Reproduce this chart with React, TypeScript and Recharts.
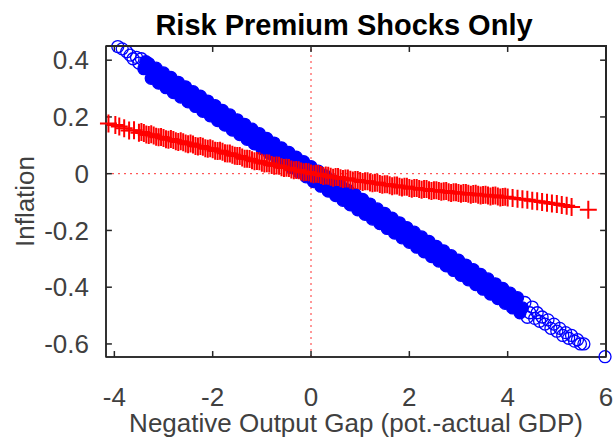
import { ScatterChart, Scatter, XAxis, YAxis, ReferenceLine, ReferenceArea, Label } from "recharts";

const xTicks = [-4, -2, 0, 2, 4, 6];
const yTicks = [-0.6, -0.4, -0.2, 0, 0.2, 0.4];
const xDomain: [number, number] = [-4.17, 6];
const yDomain: [number, number] = [-0.646, 0.45];

// blue circles (the middle of the band is a solid mass of markers)
const bluePoints: [number, number][] = [
  [-3.93, 0.448], [-3.84, 0.44], [-3.75, 0.43], [-3.68, 0.418], [-3.62, 0.405], [-3.55, 0.41], [-3.5, 0.39],
  [-3.45, 0.405], [-3.4, 0.37], [-3.36, 0.395],
  [-3.3, 0.388], [-3.25, 0.336], [-3.2, 0.352], [-3.15, 0.372], [-3.1, 0.319], [-3.05, 0.336], [-3.0, 0.355],
  [-2.95, 0.303], [-2.9, 0.319], [-2.85, 0.339], [-2.8, 0.286], [-2.75, 0.303], [-2.7, 0.322], [-2.65, 0.27],
  [-2.6, 0.286], [-2.55, 0.306], [-2.5, 0.253], [-2.45, 0.27], [-2.4, 0.289], [-2.35, 0.237], [-2.3, 0.253],
  [-2.25, 0.273], [-2.2, 0.22], [-2.15, 0.237], [-2.1, 0.256], [-2.05, 0.204], [-2.0, 0.22], [-1.95, 0.24],
  [-1.9, 0.187], [-1.85, 0.204], [-1.8, 0.223], [-1.75, 0.171], [-1.7, 0.187], [-1.65, 0.207], [-1.6, 0.154],
  [-1.55, 0.171], [-1.5, 0.19], [-1.45, 0.138], [-1.4, 0.154], [-1.35, 0.174], [-1.3, 0.121], [-1.25, 0.138],
  [-1.2, 0.157], [-1.15, 0.105], [-1.1, 0.121], [-1.05, 0.141], [-1.0, 0.088], [-0.95, 0.105], [-0.9, 0.124],
  [-0.85, 0.072], [-0.8, 0.088], [-0.75, 0.108], [-0.7, 0.055], [-0.65, 0.072], [-0.6, 0.091], [-0.55, 0.039],
  [-0.5, 0.055], [-0.45, 0.075], [-0.4, 0.022], [-0.35, 0.039], [-0.3, 0.058], [-0.25, 0.006], [-0.2, 0.022],
  [-0.15, 0.042], [-0.1, -0.011], [-0.05, 0.006], [0.0, 0.025], [0.05, -0.028], [0.1, -0.011], [0.15, 0.009],
  [0.2, -0.044], [0.25, -0.028], [0.3, -0.008], [0.35, -0.061], [0.4, -0.044], [0.45, -0.025], [0.5, -0.077],
  [0.55, -0.061], [0.6, -0.041], [0.65, -0.094], [0.7, -0.077], [0.75, -0.058], [0.8, -0.11], [0.85, -0.094],
  [0.9, -0.074], [0.95, -0.127], [1.0, -0.11], [1.05, -0.091], [1.1, -0.143], [1.15, -0.127], [1.2, -0.107],
  [1.25, -0.16], [1.3, -0.143], [1.35, -0.124], [1.4, -0.176], [1.45, -0.16], [1.5, -0.14], [1.55, -0.193],
  [1.6, -0.176], [1.65, -0.157], [1.7, -0.209], [1.75, -0.193], [1.8, -0.173], [1.85, -0.226], [1.9, -0.209],
  [1.95, -0.19], [2.0, -0.242], [2.05, -0.226], [2.1, -0.206], [2.15, -0.259], [2.2, -0.242], [2.25, -0.223],
  [2.3, -0.275], [2.35, -0.259], [2.4, -0.239], [2.45, -0.292], [2.5, -0.275], [2.55, -0.256], [2.6, -0.308],
  [2.65, -0.292], [2.7, -0.272], [2.75, -0.325], [2.8, -0.308], [2.85, -0.289], [2.9, -0.341], [2.95, -0.325],
  [3.0, -0.305], [3.05, -0.358], [3.1, -0.341], [3.15, -0.322], [3.2, -0.374], [3.25, -0.358], [3.3, -0.338],
  [3.35, -0.391], [3.4, -0.374], [3.45, -0.355], [3.5, -0.407], [3.55, -0.391], [3.6, -0.371], [3.65, -0.424],
  [3.7, -0.407], [3.75, -0.388], [3.8, -0.44], [3.85, -0.424], [3.9, -0.404], [3.95, -0.457], [4.0, -0.44],
  [4.05, -0.421], [4.1, -0.473], [4.15, -0.457], [4.2, -0.437], [4.25, -0.49], [4.3, -0.473], [4.35, -0.454],
  [4.4, -0.506], [4.45, -0.49], [4.5, -0.47],
  [4.55, -0.51], [4.6, -0.49], [4.65, -0.52], [4.7, -0.505], [4.76, -0.53], [4.82, -0.515], [4.88, -0.545],
  [4.94, -0.53], [5.0, -0.555], [5.06, -0.545], [5.12, -0.57], [5.18, -0.56], [5.24, -0.58], [5.3, -0.57],
  [5.36, -0.59], [5.42, -0.585], [5.48, -0.6], [5.55, -0.6], [5.98, -0.645],
];

// red crosses
const redPoints: [number, number][] = [
  [-4.12, 0.177], [-3.98, 0.172], [-3.9, 0.166], [-3.8, 0.16], [-3.7, 0.152], [-3.6, 0.153], [-3.5, 0.144],
  [-3.4, 0.143], [-3.3, 0.136], [-3.2, 0.135], [-3.1, 0.128], [-3.0, 0.126], [-2.9, 0.12], [-2.8, 0.119],
  [-2.7, 0.112], [-2.6, 0.111], [-2.5, 0.104], [-2.4, 0.103], [-2.3, 0.096], [-2.2, 0.095], [-2.1, 0.088],
  [-2.0, 0.086], [-1.9, 0.08], [-1.8, 0.077], [-1.7, 0.071], [-1.6, 0.067], [-1.5, 0.062], [-1.4, 0.057],
  [-1.3, 0.053], [-1.2, 0.047], [-1.1, 0.045], [-1.0, 0.039], [-0.9, 0.037], [-0.8, 0.031], [-0.7, 0.029],
  [-0.6, 0.023], [-0.5, 0.021], [-0.4, 0.015], [-0.3, 0.013], [-0.2, 0.008], [-0.1, 0.006], [0.0, 0.001],
  [0.1, 0.0], [0.2, -0.005], [0.3, -0.006], [0.4, -0.011], [0.5, -0.012], [0.6, -0.016], [0.7, -0.017],
  [0.8, -0.021], [0.9, -0.022], [1.0, -0.026], [1.1, -0.027], [1.2, -0.031], [1.3, -0.032], [1.4, -0.036],
  [1.5, -0.037], [1.6, -0.041], [1.7, -0.042], [1.8, -0.046], [1.9, -0.046], [2.0, -0.05], [2.1, -0.05],
  [2.2, -0.054], [2.3, -0.054], [2.4, -0.058], [2.5, -0.058], [2.6, -0.061], [2.7, -0.062], [2.8, -0.065],
  [2.9, -0.065], [3.0, -0.068], [3.1, -0.068], [3.2, -0.071], [3.3, -0.072], [3.4, -0.074], [3.5, -0.075],
  [3.6, -0.077], [3.7, -0.078], [3.8, -0.08], [3.9, -0.082], [4.0, -0.084], [4.1, -0.086], [4.2, -0.088],
  [4.3, -0.09], [4.4, -0.092], [4.5, -0.095], [4.6, -0.097], [4.7, -0.1], [4.8, -0.102], [4.9, -0.105],
  [5.0, -0.107], [5.1, -0.11], [5.2, -0.113], [5.3, -0.117], [5.64, -0.127],
  // the packed middle of the red band
  [-3.45, 0.147], [-3.35, 0.138], [-3.25, 0.139], [-3.15, 0.13], [-3.05, 0.129], [-2.95, 0.121], [-2.85, 0.122],
  [-2.75, 0.114], [-2.65, 0.114], [-2.55, 0.106], [-2.45, 0.106], [-2.35, 0.098], [-2.25, 0.098], [-2.15, 0.09],
  [-2.05, 0.09], [-1.95, 0.081], [-1.85, 0.081], [-1.75, 0.072], [-1.65, 0.071], [-1.55, 0.063], [-1.45, 0.062],
  [-1.35, 0.053], [-1.25, 0.052], [-1.15, 0.044], [-1.05, 0.044], [-0.95, 0.036], [-0.85, 0.036], [-0.75, 0.028],
  [-0.65, 0.028], [-0.55, 0.02], [-0.45, 0.02], [-0.35, 0.012], [-0.25, 0.012], [-0.15, 0.005], [-0.05, 0.005],
  [0.05, -0.002], [0.15, -0.001], [0.25, -0.008], [0.35, -0.007], [0.45, -0.014], [0.55, -0.012], [0.65, -0.019],
  [0.75, -0.017], [0.85, -0.024], [0.95, -0.022], [1.05, -0.029], [1.15, -0.027], [1.25, -0.034], [1.35, -0.032],
  [1.45, -0.039], [1.55, -0.037], [1.65, -0.044], [1.75, -0.042], [1.85, -0.049], [1.95, -0.046], [2.05, -0.053],
  [2.15, -0.05], [2.25, -0.057], [2.35, -0.054], [2.45, -0.061], [2.55, -0.058], [2.65, -0.064], [2.75, -0.061],
  [2.85, -0.068], [2.95, -0.065], [3.05, -0.071], [3.15, -0.068], [3.25, -0.074], [3.35, -0.071], [3.45, -0.077],
  [3.55, -0.074], [3.65, -0.08], [3.75, -0.077], [3.85, -0.084], [3.95, -0.081],
];

const blue = bluePoints.map(([x, y]) => ({ x, y }));
const red = redPoints.map(([x, y]) => ({ x, y }));

const font = "'Liberation Sans', Arial, sans-serif";
const axisColor = "#262626";
const textColor = "#404040";

// markers pile up into a solid band in the middle, rings stay visible at the ends
const BlueRing = (p: any) => {
  const x = p.payload?.x ?? 0;
  const solid = x > -3.45 && x < 4.35;
  return (
    <circle
      cx={p.cx}
      cy={p.cy}
      r={6}
      fill={solid ? "#0000ff" : "none"}
      stroke="#0000ff"
      strokeWidth={1.3}
    />
  );
};

const RedPlus = (p: any) => (
  <path
    d={`M${p.cx - 8.5},${p.cy}H${p.cx + 8.5}M${p.cx},${p.cy - 9}V${p.cy + 9}`}
    stroke="#ff0000"
    strokeWidth={2}
    fill="none"
  />
);

// plot box: left 106, top 46, 500 x 311
const PLOT = { left: 106, top: 46, width: 500, height: 311 };
const tickLenX = 0.12; // about 6px in x units
const tickLenY = 0.021; // about 6px in y units

export default function App() {
  return (
    <div style={{ position: "fixed", left: 0, top: 0, width: 613, height: 439, background: "#fff", overflow: "hidden" }}>
      <div
        style={{
          position: "absolute",
          left: 344,
          top: 8,
          transform: "translateX(-50%)",
          whiteSpace: "nowrap",
          fontFamily: font,
          fontWeight: "bold",
          fontSize: 29,
          lineHeight: "34px",
          color: "#000",
        }}
      >
        Risk Premium Shocks Only
      </div>
      <ScatterChart
        width={613}
        height={439}
        margin={{ top: PLOT.top, right: 613 - PLOT.left - PLOT.width, bottom: 0, left: 0 }}
      >
        <XAxis
          dataKey="x"
          type="number"
          domain={xDomain}
          ticks={xTicks}
          height={439 - PLOT.top - PLOT.height}
          tickLine={false}
          tickMargin={25}
          stroke={axisColor}
          strokeWidth={1.5}
          tick={{ fill: textColor, fontSize: 26, fontFamily: font }}
        >
          <Label
            value="Negative Output Gap (pot.-actual GDP)"
            position="insideBottom"
            offset={7}
            style={{ fill: textColor, fontSize: 26, fontFamily: font }}
          />
        </XAxis>
        <YAxis
          dataKey="y"
          type="number"
          domain={yDomain}
          ticks={yTicks}
          width={PLOT.left}
          tickLine={false}
          tickMargin={11}
          stroke={axisColor}
          strokeWidth={1.5}
          tick={{ fill: textColor, fontSize: 26, fontFamily: font }}
        >
          <Label
            content={(props: any) => {
              const vb = props.viewBox;
              const cx = 25;
              const cy = vb.y + vb.height / 2;
              return (
                <text
                  x={cx}
                  y={cy}
                  transform={`rotate(-90 ${cx} ${cy})`}
                  textAnchor="middle"
                  dominantBaseline="central"
                  fill={textColor}
                  fontSize={26}
                  fontFamily={font}
                >
                  Inflation
                </text>
              );
            }}
          />
        </YAxis>
        <ReferenceLine x={0} stroke="#ff3030" strokeDasharray="2 4" strokeWidth={1} />
        <ReferenceLine y={0} stroke="#ff3030" strokeDasharray="2 4" strokeWidth={1} />
        {/* axes box */}
        <ReferenceArea
          x1={xDomain[0]}
          x2={xDomain[1]}
          y1={yDomain[0]}
          y2={yDomain[1]}
          ifOverflow="visible"
          fill="none"
          fillOpacity={0}
          stroke={axisColor}
          strokeWidth={1.5}
          strokeOpacity={1}
        />
        {/* inward ticks on all four sides */}
        {xTicks.map((t) => (
          <ReferenceLine
            key={`txb${t}`}
            ifOverflow="visible"
            segment={[{ x: t, y: yDomain[0] }, { x: t, y: yDomain[0] + tickLenY }]}
            stroke={axisColor}
            strokeWidth={1.5}
          />
        ))}
        {xTicks.map((t) => (
          <ReferenceLine
            key={`txt${t}`}
            ifOverflow="visible"
            segment={[{ x: t, y: yDomain[1] }, { x: t, y: yDomain[1] - tickLenY }]}
            stroke={axisColor}
            strokeWidth={1.5}
          />
        ))}
        {yTicks.map((t) => (
          <ReferenceLine
            key={`tyl${t}`}
            ifOverflow="visible"
            segment={[{ x: xDomain[0], y: t }, { x: xDomain[0] + tickLenX, y: t }]}
            stroke={axisColor}
            strokeWidth={1.5}
          />
        ))}
        {yTicks.map((t) => (
          <ReferenceLine
            key={`tyr${t}`}
            ifOverflow="visible"
            segment={[{ x: xDomain[1], y: t }, { x: xDomain[1] - tickLenX, y: t }]}
            stroke={axisColor}
            strokeWidth={1.5}
          />
        ))}
        <Scatter data={blue} shape={BlueRing} isAnimationActive={false} />
        <Scatter data={red} shape={RedPlus} isAnimationActive={false} />
      </ScatterChart>
      <div
        style={{
          position: "absolute",
          left: PLOT.left,
          top: PLOT.top - 1,
          width: PLOT.width + 1,
          height: PLOT.height,
          borderTop: `2px solid ${axisColor}`,
          borderRight: `2px solid ${axisColor}`,
          boxSizing: "border-box",
          pointerEvents: "none",
        }}
      />
    </div>
  );
}
